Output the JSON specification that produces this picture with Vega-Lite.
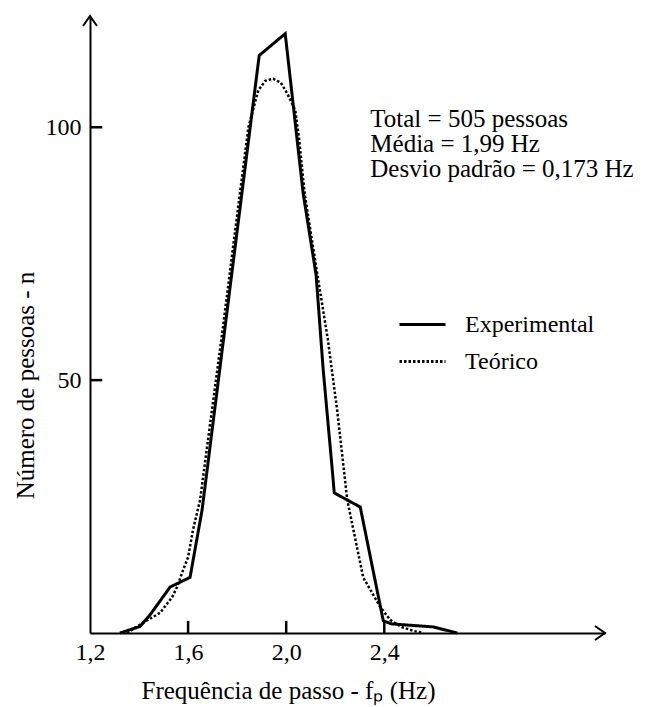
{
  "$schema": "https://vega.github.io/schema/vega-lite/v6.json",
  "width": 515,
  "height": 617,
  "autosize": "none",
  "padding": {"left": 90, "top": 16, "right": 41, "bottom": 74},
  "background": "white",
  "config": {
    "view": {"stroke": null},
    "font": "Liberation Serif, Times New Roman, serif",
    "text": {"font": "Liberation Serif, Times New Roman, serif"},
    "axis": {
      "domainColor": "black", "domainWidth": 2, "ticks": false,
      "labelColor": "black", "titleColor": "black", "labelFont": "Liberation Serif, Times New Roman, serif",
      "titleFont": "Liberation Serif, Times New Roman, serif", "labelFontSize": 24, "titleFontSize": 25,
      "titleFontWeight": "normal", "grid": false
    },
    "legend": {"labelFont": "Liberation Serif, Times New Roman, serif", "labelFontSize": 24, "labelColor": "black"}
  },
  "datasets": {
    "curvas": [
      {"f": 1.322, "n": 0, "serie": "Experimental"},
      {"f": 1.404, "n": 1.3, "serie": "Experimental"},
      {"f": 1.445, "n": 3.6, "serie": "Experimental"},
      {"f": 1.527, "n": 9.1, "serie": "Experimental"},
      {"f": 1.608, "n": 11, "serie": "Experimental"},
      {"f": 1.657, "n": 24.3, "serie": "Experimental"},
      {"f": 1.890, "n": 114.2, "serie": "Experimental"},
      {"f": 1.996, "n": 118.5, "serie": "Experimental"},
      {"f": 2.069, "n": 87, "serie": "Experimental"},
      {"f": 2.122, "n": 70.8, "serie": "Experimental"},
      {"f": 2.151, "n": 52, "serie": "Experimental"},
      {"f": 2.188, "n": 32.2, "serie": "Experimental"},
      {"f": 2.196, "n": 27.7, "serie": "Experimental"},
      {"f": 2.302, "n": 24.9, "serie": "Experimental"},
      {"f": 2.396, "n": 2.4, "serie": "Experimental"},
      {"f": 2.43, "n": 1.8, "serie": "Experimental"},
      {"f": 2.60, "n": 1.2, "serie": "Experimental"},
      {"f": 2.698, "n": 0, "serie": "Experimental"},
      {"f": 1.351, "n": 0, "serie": "Teórico"},
      {"f": 1.416, "n": 2, "serie": "Teórico"},
      {"f": 1.486, "n": 4, "serie": "Teórico"},
      {"f": 1.535, "n": 7.1, "serie": "Teórico"},
      {"f": 1.555, "n": 9.1, "serie": "Teórico"},
      {"f": 1.580, "n": 12.5, "serie": "Teórico"},
      {"f": 1.600, "n": 15, "serie": "Teórico"},
      {"f": 1.620, "n": 20.4, "serie": "Teórico"},
      {"f": 1.649, "n": 26.3, "serie": "Teórico"},
      {"f": 1.686, "n": 40, "serie": "Teórico"},
      {"f": 1.741, "n": 60, "serie": "Teórico"},
      {"f": 1.793, "n": 80, "serie": "Teórico"},
      {"f": 1.846, "n": 100, "serie": "Teórico"},
      {"f": 1.886, "n": 107.3, "serie": "Teórico"},
      {"f": 1.915, "n": 109.2, "serie": "Teórico"},
      {"f": 1.947, "n": 109.6, "serie": "Teórico"},
      {"f": 1.978, "n": 108.8, "serie": "Teórico"},
      {"f": 2.004, "n": 106.7, "serie": "Teórico"},
      {"f": 2.037, "n": 103.4, "serie": "Teórico"},
      {"f": 2.052, "n": 98, "serie": "Teórico"},
      {"f": 2.075, "n": 87, "serie": "Teórico"},
      {"f": 2.13, "n": 70, "serie": "Teórico"},
      {"f": 2.17, "n": 58, "serie": "Teórico"},
      {"f": 2.208, "n": 44, "serie": "Teórico"},
      {"f": 2.249, "n": 26.3, "serie": "Teórico"},
      {"f": 2.314, "n": 11, "serie": "Teórico"},
      {"f": 2.384, "n": 5.1, "serie": "Teórico"},
      {"f": 2.424, "n": 2.6, "serie": "Teórico"},
      {"f": 2.47, "n": 1.2, "serie": "Teórico"},
      {"f": 2.52, "n": 0.4, "serie": "Teórico"},
      {"f": 2.56, "n": 0, "serie": "Teórico"}
    ],
    "marcas": [
      {"f": 1.6, "n": 0, "marca": "x1.6"}, {"f": 1.6, "n": 2.4, "marca": "x1.6"},
      {"f": 2.0, "n": 0, "marca": "x2.0"}, {"f": 2.0, "n": 2.4, "marca": "x2.0"},
      {"f": 2.4, "n": 0, "marca": "x2.4"}, {"f": 2.4, "n": 2.4, "marca": "x2.4"},
      {"f": 1.2, "n": 50, "marca": "y50"}, {"f": 1.25, "n": 50, "marca": "y50"},
      {"f": 1.2, "n": 100, "marca": "y100"}, {"f": 1.25, "n": 100, "marca": "y100"}
    ]
  },
  "layer": [
    {
      "data": {"name": "curvas"},
      "transform": [{"filter": "datum.serie === 'Teórico'"}],
      "mark": {"type": "line", "color": "black", "strokeWidth": 2.5, "strokeCap": "butt", "clip": false},
      "encoding": {
        "x": {"field": "f", "type": "quantitative", "scale": {"domain": [1.2, 3.3], "nice": false, "zero": false},
          "axis": {"values": [1.2, 1.6, 2.0, 2.4], "labelExpr": "replace(format(datum.value, '.1f'), '.', ',')",
            "labelPadding": 7, "labelFlush": false,
            "title": "Frequência de passo - fₚ (Hz)", "titleX": 198, "titleY": 57, "titleBaseline": "middle", "titleAlign": "center"}},
        "y": {"field": "n", "type": "quantitative", "scale": {"domain": [0, 122], "nice": false},
          "axis": {"values": [50, 100], "labelPadding": 9,
            "title": "Número de pessoas - n", "titleX": -65, "titleY": 369, "titleBaseline": "middle", "titleAlign": "center", "titleAngle": -90}},
        "strokeDash": {"field": "serie", "type": "nominal",
          "scale": {"domain": ["Experimental", "Teórico"], "range": [[1, 0], [2.5, 2]]},
          "legend": {"title": null, "orient": "none", "legendX": 308, "legendY": 284, "symbolType": "stroke",
            "symbolSize": 2116, "symbolStrokeWidth": 3, "symbolStrokeColor": "black", "labelOffset": 18, "rowPadding": -7, "padding": 0}}
      }
    },
    {
      "data": {"name": "curvas"},
      "transform": [{"filter": "datum.serie === 'Experimental'"}],
      "mark": {"type": "line", "color": "black", "strokeWidth": 3, "strokeJoin": "miter", "clip": false},
      "encoding": {
        "x": {"field": "f", "type": "quantitative"},
        "y": {"field": "n", "type": "quantitative"},
        "strokeDash": {"field": "serie", "type": "nominal"}
      }
    },
    {
      "data": {"name": "marcas"},
      "mark": {"type": "line", "color": "black", "strokeWidth": 2.5, "strokeCap": "butt", "clip": false},
      "encoding": {
        "x": {"field": "f", "type": "quantitative"},
        "y": {"field": "n", "type": "quantitative"},
        "detail": {"field": "marca", "type": "nominal"},
        "order": {"field": "n", "type": "quantitative"}
      }
    },
    {
      "data": {"values": [{"rotulo": "estatisticas"}]},
      "mark": {"type": "text", "text": ["Total = 505 pessoas", "Média = 1,99 Hz", "Desvio padrão = 0,173 Hz"],
        "align": "left", "baseline": "alphabetic", "fontSize": 25, "lineHeight": 25, "color": "black"},
      "encoding": {"x": {"datum": 2.343}, "y": {"datum": 100}}
    },
    {
      "data": {"values": [{"rotulo": "seta x"}]},
      "mark": {"type": "point", "shape": "M -1 -0.7 L 0 0 L -1 0.7", "filled": false, "stroke": "black", "strokeWidth": 2, "size": 400, "opacity": 1},
      "encoding": {"x": {"datum": 3.3}, "y": {"datum": 0}}
    },
    {
      "data": {"values": [{"rotulo": "seta y"}]},
      "mark": {"type": "point", "shape": "M -0.7 1 L 0 0 L 0.7 1", "filled": false, "stroke": "black", "strokeWidth": 2, "size": 400, "opacity": 1},
      "encoding": {"x": {"datum": 1.2}, "y": {"datum": 122}}
    }
  ]
}
